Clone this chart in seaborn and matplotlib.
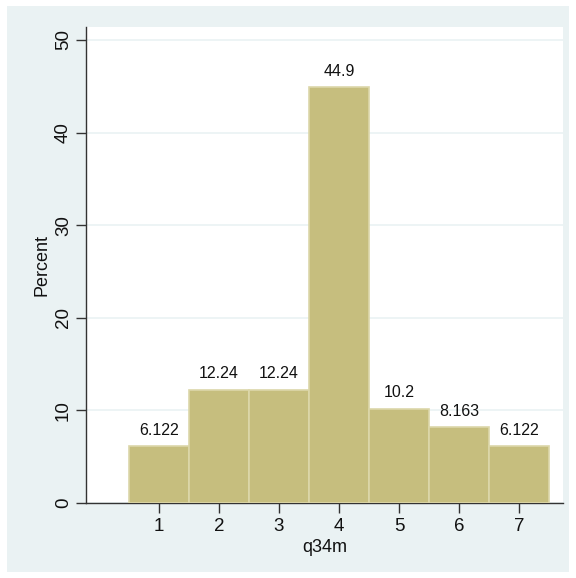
import matplotlib
matplotlib.use("Agg")
import matplotlib.pyplot as plt
import seaborn as sns
import pandas as pd

categories = [1, 2, 3, 4, 5, 6, 7]
percent = [6.122, 12.24, 12.24, 44.9, 10.2, 8.163, 6.122]
bar_labels = ["6.122", "12.24", "12.24", "44.9", "10.2", "8.163", "6.122"]
y_ticks = [0, 10, 20, 30, 40, 50]

sns.set_theme(style="white")
plt.rcParams['font.family'] = ['Liberation Sans', 'DejaVu Sans']

W, H = 576, 578
fig = plt.figure(figsize=(W / 100, H / 100), dpi=100)
fig.patch.set_facecolor("white")
bgcol = "#EAF2F3"
# outer blue panel
fig.patches.append(matplotlib.patches.Rectangle((7 / W, 1 - 572 / H), (569 - 7) / W, (572 - 6) / H,
                                                transform=fig.transFigure, facecolor=bgcol,
                                                edgecolor="none", zorder=-10))

left, right, top, bottom = 86, 563, 27, 503
ax = fig.add_axes([left / W, 1 - bottom / H, (right - left) / W, (bottom - top) / H])
ax.set_zorder(5)
ax.set_facecolor("white")

df = pd.DataFrame({"q34m": categories, "Percent": percent})
sns.barplot(data=df, x="q34m", y="Percent", native_scale=True, width=1.0,
            color="#C6BE7E", saturation=1, edgecolor="#DCD7AA", linewidth=1.2, ax=ax, zorder=3)

for p, lab in zip(ax.patches, bar_labels):
    ax.text(p.get_x() + p.get_width() / 2, p.get_height() + 0.9, lab,
            ha="center", va="bottom", fontsize=11.5, color="#111111")

ax.set_xlim(-0.217, 7.733)
ax.set_ylim(0, 51.4)
ax.set_xticks(categories)
ax.set_yticks(y_ticks)
ax.set_yticklabels([str(v) for v in y_ticks], rotation=90, va="center")
ax.yaxis.grid(True, color=bgcol, linewidth=1.2, zorder=0)
ax.xaxis.grid(False)
ax.set_axisbelow(True)
for s in ["top", "right"]:
    ax.spines[s].set_visible(False)
for s in ["left", "bottom"]:
    ax.spines[s].set_color("#333333")
    ax.spines[s].set_linewidth(1.0)
ax.tick_params(axis="both", direction="out", length=7, width=1, color="#333333",
               labelsize=13.5, labelcolor="#111111", left=True, bottom=True)
ax.tick_params(axis="y", pad=3)
ax.tick_params(axis="x", pad=4)
ax.set_xlabel("q34m", fontsize=13, labelpad=3, color="#111111")
ax.set_ylabel("Percent", fontsize=13, labelpad=3, color="#111111")

fig.savefig("out.png", dpi=100, facecolor="white")
